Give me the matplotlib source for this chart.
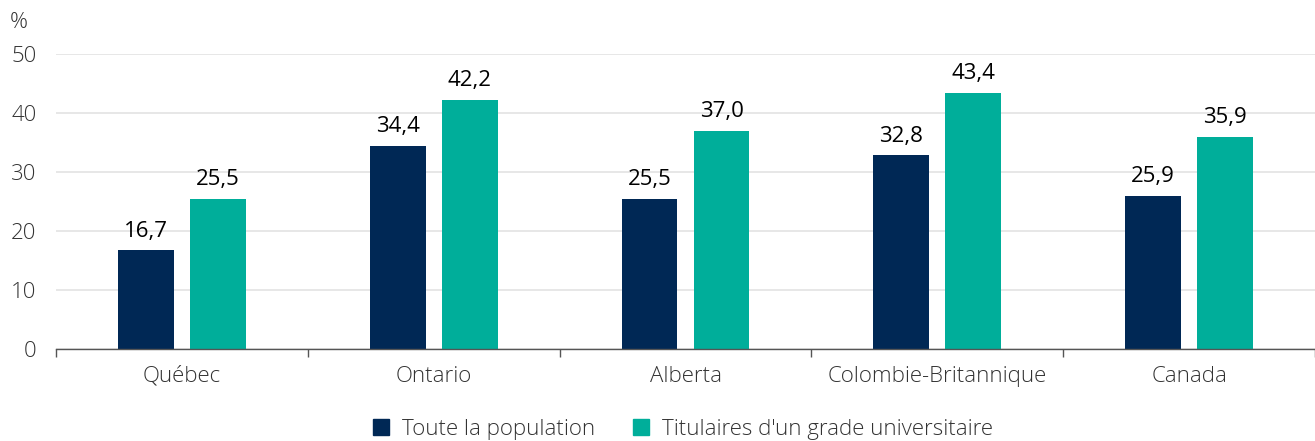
import matplotlib
matplotlib.use("Agg")
import matplotlib.pyplot as plt
from matplotlib.patches import Patch
import numpy as np

categories = ["Québec", "Ontario", "Alberta", "Colombie-Britannique", "Canada"]
series_names = ["Toute la population", "Titulaires d'un grade universitaire"]
pop_all = [16.7, 34.4, 25.5, 32.8, 25.9]
pop_grad = [25.5, 42.2, 37.0, 43.4, 35.9]
yticks = [0, 10, 20, 30, 40, 50]
colors = ["#002855", "#00AE9A"]

plt.rcParams['font.family'] = ['Open Sans', 'DejaVu Sans']
FS = 16

fig = plt.figure(figsize=(13.15, 4.41), dpi=100)
ax = fig.add_axes([56/1315, 1-349/441, 1-56/1315, 295/441])

x = np.arange(len(categories))
w = 0.222
off = 0.143
b1 = ax.bar(x - off, pop_all, w, color=colors[0], zorder=3)
b2 = ax.bar(x + off, pop_grad, w, color=colors[1], zorder=3)

fmt = lambda v: f"{v:.1f}".replace(".", ",")
for bars, vals in ((b1, pop_all), (b2, pop_grad)):
    for r, v in zip(bars, vals):
        ax.text(r.get_x() + r.get_width()/2, v + 1.5, fmt(v), ha="center", va="bottom",
                fontsize=FS, color="black")

ax.set_xlim(-0.5, len(categories) - 0.5)
ax.set_ylim(0, 50)
ax.set_yticks(yticks)
ax.set_yticklabels([str(t) for t in yticks], fontsize=FS, color="#333333", fontweight="light")
ax.set_xticks(x)
ax.set_xticklabels(categories, fontsize=FS, color="#333333", fontweight="light")
ax.tick_params(axis="x", which="major", length=0, pad=12)
ax.set_xticks(np.arange(-0.5, len(categories)), minor=True)
ax.tick_params(axis="x", which="minor", length=6, color="#555555", width=1)
ax.tick_params(axis="y", length=0, pad=14)

ax.grid(axis="y", color="#e3e3e3", linewidth=1.2, zorder=0)
for s in ("top", "right", "left"):
    ax.spines[s].set_visible(False)
ax.spines["bottom"].set_color("#555555")
ax.spines["bottom"].set_linewidth(1)
ax.spines["bottom"].set_zorder(4)

fig.text(10/1315, 1-22/441, "%", fontsize=FS, color="#333333", va="center", ha="left",
         fontweight="light")

handles = [Patch(color=c) for c in colors]
leg = fig.legend(handles, series_names, loc="center", bbox_to_anchor=(683/1315, 1-429/441), ncol=2,
                 frameon=False, fontsize=FS, handlelength=0.7, handleheight=0.7,
                 handletextpad=0.6, columnspacing=1.7, labelcolor="#333333")
for t in leg.get_texts():
    t.set_fontweight("light")

fig.savefig("out.png", dpi=100)
